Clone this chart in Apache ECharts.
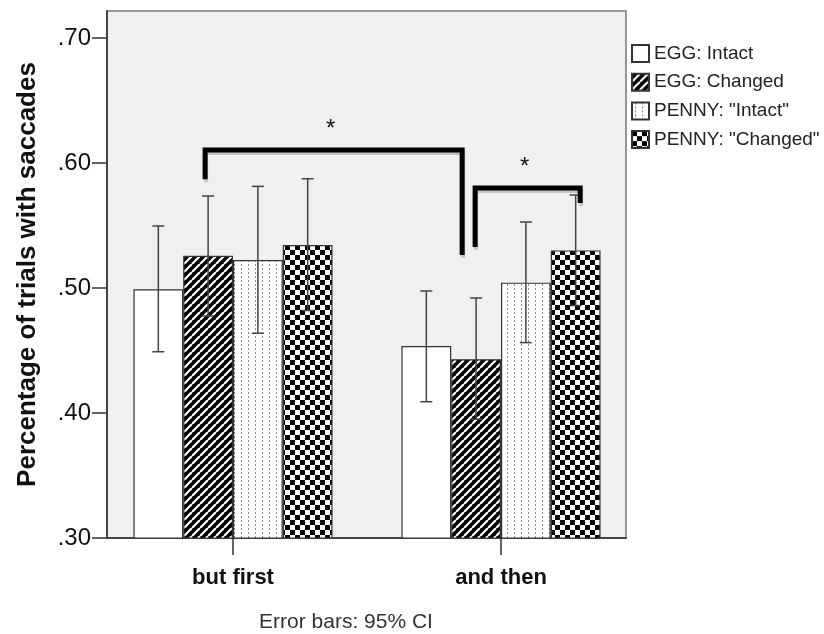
<!DOCTYPE html>
<html>
<head>
<meta charset="utf-8">
<script src="https://cdn.jsdelivr.net/npm/echarts@6/dist/echarts.min.js"></script>
<style>
html,body{margin:0;padding:0;background:#fff;}
#chart{width:824px;height:634px;}
</style>
</head>
<body>
<div id="chart"></div>
<script>
// ---------- data ----------
const categories = ['but first', 'and then'];
const seriesNames = ['EGG: Intact', 'EGG: Changed', 'PENNY: "Intact"', 'PENNY: "Changed"'];
const eggIntact = [0.499, 0.4536];
const eggChanged = [0.5258, 0.443];
const pennyIntact = [0.5224, 0.5043];
const pennyChanged = [0.5344, 0.5301];
const eggIntactCI = [[0.449, 0.5496], [0.409, 0.4976]];
const eggChangedCI = [[0.4776, 0.5736], [0.395, 0.492]];
const pennyIntactCI = [[0.4638, 0.5813], [0.4563, 0.5528]];
const pennyChangedCI = [[0.482, 0.5874], [0.486, 0.5744]];
const yTicks = [0.3, 0.4, 0.5, 0.6, 0.7];
// significance brackets: [left category, left offset (bar widths), right category, right offset, top value, left end value, right end value]
const bracket1 = [0, -0.56, 1, -0.78, 0.6104, 0.587, 0.5264];
const bracket2 = [1, -0.52, 1, 1.59, 0.58, 0.5328, 0.568];
const sigLabel = '*';
const footnote = 'Error bars: 95% CI';
const yTitle = 'Percentage of trials with saccades';

// ---------- patterns ----------
function makeCanvas(w, h, draw) {
  const c = document.createElement('canvas');
  c.width = w; c.height = h;
  draw(c.getContext('2d'), w, h);
  return c;
}
const stripeCanvas = makeCanvas(8, 8, function (g, s) {
  g.fillStyle = '#000'; g.fillRect(0, 0, s, s);
  g.strokeStyle = '#fff'; g.lineWidth = 2.2;
  [-s, 0, s].forEach(function (o) {
    g.beginPath(); g.moveTo(o, s); g.lineTo(o + s, 0); g.stroke();
  });
});
const dotCanvas = makeCanvas(7, 4, function (g, w, h) {
  g.fillStyle = '#fff'; g.fillRect(0, 0, w, h);
  g.fillStyle = '#8a8a8a'; g.fillRect(3, 0, 1, 2);
});
const checkCanvas = makeCanvas(10, 10, function (g) {
  g.fillStyle = '#fff'; g.fillRect(0, 0, 10, 10);
  g.fillStyle = '#000'; g.fillRect(0, 0, 5, 5); g.fillRect(5, 5, 5, 5);
});
const fills = [
  '#ffffff',
  { image: stripeCanvas, repeat: 'repeat' },
  { image: dotCanvas, repeat: 'repeat' },
  { image: checkCanvas, repeat: 'repeat' }
];

const barValues = [eggIntact, eggChanged, pennyIntact, pennyChanged];
const ciValues = [eggIntactCI, eggChangedCI, pennyIntactCI, pennyChangedCI];
const CAT_GAP = 0.257;
const FONT = '"Liberation Sans", Arial, sans-serif';

const errData = [];
ciValues.forEach(function (ci, k) {
  ci.forEach(function (pair, c) { errData.push([c, k, pair[0], pair[1]]); });
});

function barWidthOf(api) { return api.size([1, 0])[0] * (1 - CAT_GAP) / 4; }

const barSeries = seriesNames.map(function (name, k) {
  return {
    name: name, type: 'bar', xAxisIndex: 1, yAxisIndex: 1,
    data: barValues[k],
    barGap: '0%', barCategoryGap: (CAT_GAP * 100) + '%',
    itemStyle: { color: fills[k], borderColor: '#333', borderWidth: 1.2 },
    emphasis: { disabled: true }, z: 2
  };
});

const yAxisBase = {
  type: 'value', min: 0.3, max: 0.7216, interval: 0.1
};

const option = {
  animation: false,
  backgroundColor: '#ffffff',
  grid: [
    { left: 107, top: 11, width: 519, bottom: 96, show: true, backgroundColor: '#f0f0f0', borderColor: '#777', borderWidth: 1.5 },
    { left: 99, top: 11, width: 536, bottom: 96 }
  ],
  xAxis: [
    { type: 'category', gridIndex: 0, data: categories, axisLine: { show: true, lineStyle: { color: '#444', width: 2 } },
      axisTick: { show: false }, axisLabel: { show: false }, splitLine: { show: false } },
    { type: 'category', gridIndex: 1, data: categories, axisLine: { show: false },
      axisTick: { show: true, alignWithLabel: true, length: 17, lineStyle: { color: '#333', width: 1.5 } },
      axisLabel: { margin: 29, fontFamily: FONT, fontSize: 22, fontWeight: 'bold', color: '#111' },
      splitLine: { show: false } }
  ],
  yAxis: [
    Object.assign({}, yAxisBase, {
      gridIndex: 0,
      axisLine: { show: true, lineStyle: { color: '#444', width: 2 } },
      axisTick: { show: true, length: 15, customValues: yTicks, lineStyle: { color: '#333', width: 1.5 } },
      axisLabel: { margin: 16, customValues: yTicks, fontFamily: FONT, fontSize: 24, color: '#111',
        formatter: function (v) { return '.' + Math.round(v * 100); } },
      splitLine: { show: false },
      name: yTitle, nameLocation: 'middle', nameGap: 66,
      nameTextStyle: { fontFamily: FONT, fontSize: 26, fontWeight: 'bold', color: '#111' }
    }),
    Object.assign({}, yAxisBase, { gridIndex: 1, show: false, splitLine: { show: false } })
  ],
  legend: {
    orient: 'vertical', left: 631, top: 44, padding: 0, itemWidth: 17, itemHeight: 17, itemGap: 9.7,
    icon: 'rect', selectedMode: false,
    textStyle: { fontFamily: FONT, fontSize: 19, lineHeight: 17, color: '#222' },
    data: seriesNames
  },
  series: barSeries.concat([
    {
      type: 'custom', name: 'ci', xAxisIndex: 1, yAxisIndex: 1, z: 5, silent: true,
      encode: { x: 0, y: [2, 3] },
      data: errData,
      renderItem: function (params, api) {
        const c = api.value(0), k = api.value(1);
        const bw = barWidthOf(api);
        const x = api.coord([c, 0.5])[0] + (k - 1.5) * bw;
        const yLo = api.coord([c, api.value(2)])[1];
        const yHi = api.coord([c, api.value(3)])[1];
        const st = { stroke: '#444', lineWidth: 1.5 };
        return { type: 'group', children: [
          { type: 'line', shape: { x1: x, y1: yLo, x2: x, y2: yHi }, style: st },
          { type: 'line', shape: { x1: x - 6, y1: yHi, x2: x + 6, y2: yHi }, style: st },
          { type: 'line', shape: { x1: x - 6, y1: yLo, x2: x + 6, y2: yLo }, style: st }
        ] };
      }
    },
    {
      type: 'custom', name: 'sig', xAxisIndex: 1, yAxisIndex: 1, z: 6, silent: true, clip: false,
      encode: { x: 0, y: 4 },
      data: [bracket1, bracket2],
      renderItem: function (params, api) {
        const bw = barWidthOf(api);
        const xl = api.coord([api.value(0), 0.5])[0] + api.value(1) * bw;
        const xr = api.coord([api.value(2), 0.5])[0] + api.value(3) * bw;
        const yt = api.coord([0, api.value(4)])[1];
        const yl = api.coord([0, api.value(5)])[1];
        const yr = api.coord([0, api.value(6)])[1];
        const pts = [[xl, yl], [xl, yt], [xr, yt], [xr, yr]];
        const shadow = pts.map(function (p) { return [p[0] + 1, p[1] + 3]; });
        return { type: 'group', children: [
          { type: 'polyline', shape: { points: shadow }, style: { stroke: '#c4c4c4', lineWidth: 4, fill: null } },
          { type: 'polyline', shape: { points: pts }, style: { stroke: '#000', lineWidth: 5, fill: null } },
          { type: 'text', x: (xl + xr) / 2 - 3, y: yt - 21, style: { text: sigLabel, fontFamily: FONT, fontSize: 24, fill: '#111', align: 'center', verticalAlign: 'middle' } }
        ] };
      }
    }
  ]),
  graphic: [
    { type: 'text', x: 346, y: 622,
      style: { text: footnote, fontFamily: FONT, fontSize: 21, fill: '#333', align: 'center', verticalAlign: 'middle' } }
  ]
};

const chart = echarts.init(document.getElementById('chart'), null, { renderer: 'canvas' });
chart.setOption(option);
</script>
</body>
</html>
